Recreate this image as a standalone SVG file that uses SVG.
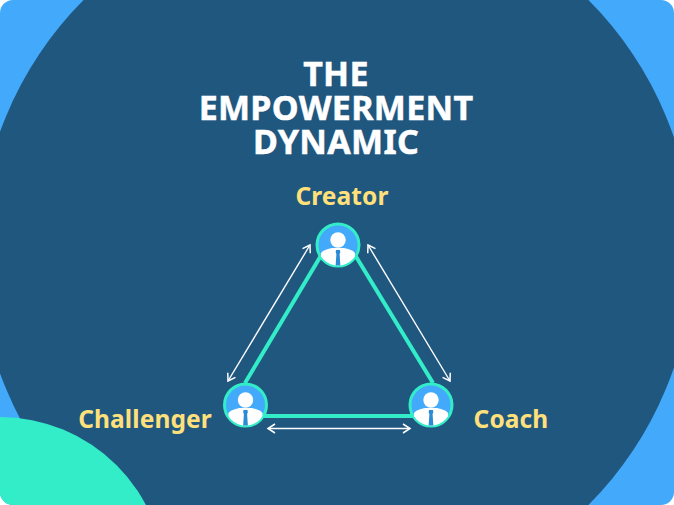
<svg xmlns="http://www.w3.org/2000/svg" width="674" height="505" viewBox="0 0 674 505">
<style>
text{font-family:"Noto Sans","Open Sans","DejaVu Sans",sans-serif;font-weight:700;text-anchor:middle}
.t{fill:#fff;stroke:#fff;stroke-width:.5px;font-size:34px;letter-spacing:.3px}
.l{fill:#ffe07a;font-size:24.5px;letter-spacing:.1px}
.e{fill:none;stroke:#33edc9;stroke-width:4}
.a{fill:none;stroke:#fff;stroke-width:1.4;marker-start:url(#s);marker-end:url(#h)}
.ring{fill:#42a9fb;stroke:#33edc9;stroke-width:3}
</style>
<defs>
<marker id="h" markerUnits="userSpaceOnUse" markerWidth="12" markerHeight="12" refX="10" refY="6" orient="auto"><path d="M3 1.500L10 6L3 10.500" fill="none" stroke="#fff" stroke-width="1.500"/></marker>
<marker id="s" markerUnits="userSpaceOnUse" markerWidth="12" markerHeight="12" refX="2" refY="6" orient="auto"><path d="M9 1.500L2 6L9 10.500" fill="none" stroke="#fff" stroke-width="1.500"/></marker>
<clipPath id="cp"><circle cx="0" cy="0" r="20.500"/></clipPath>
<g id="p" clip-path="url(#cp)">
<circle cx="0" cy="-5" r="7.700" fill="#fff"/>
<path d="M-17 22V8Q-15 5-6 3H6Q15 5 17 8V22Z" fill="#fff"/>
<path d="M-2 5H2L2.300 7.500L1.600 9L2.400 21H-2.400L-1.600 9L-2.300 7.500Z" fill="#2a8ad6"/>
</g>
<clipPath id="card"><rect width="674" height="505" rx="13"/></clipPath>
</defs>
<rect width="674" height="505" fill="#fff"/>
<g clip-path="url(#card)">
<rect width="674" height="505" fill="#42a9fb"/>
<circle cx="336" cy="252.500" r="357" fill="#20577f"/>
<circle cx="0" cy="582" r="165" fill="#33edc9"/>
</g>
<text class="t" x="336" y="86">THE</text>
<text class="t" x="336" y="120">EMPOWERMENT</text>
<text class="t" x="336" y="153.500">DYNAMIC</text>
<g id="connectors">
<path class="e" d="M245 383L338 227"/>
<path class="e" d="M433 383L338 227"/>
<path class="e" d="M260 416H416"/>
<path class="a" d="M310 245L228 381"/>
<path class="a" d="M368 245L450 381"/>
<path class="a" d="M268 428.500H410"/>
</g>
<g id="creator"><circle class="ring" cx="338" cy="245" r="21"/><use href="#p" x="338" y="245"/><text class="l" x="342" y="205">Creator</text></g>
<g id="challenger"><circle class="ring" cx="245.500" cy="405" r="21"/><use href="#p" x="245.500" y="405"/><text class="l" x="145" y="428">Challenger</text></g>
<g id="coach"><circle class="ring" cx="431" cy="405" r="21"/><use href="#p" x="431" y="405"/><text class="l" x="511" y="428">Coach</text></g>
</svg>
